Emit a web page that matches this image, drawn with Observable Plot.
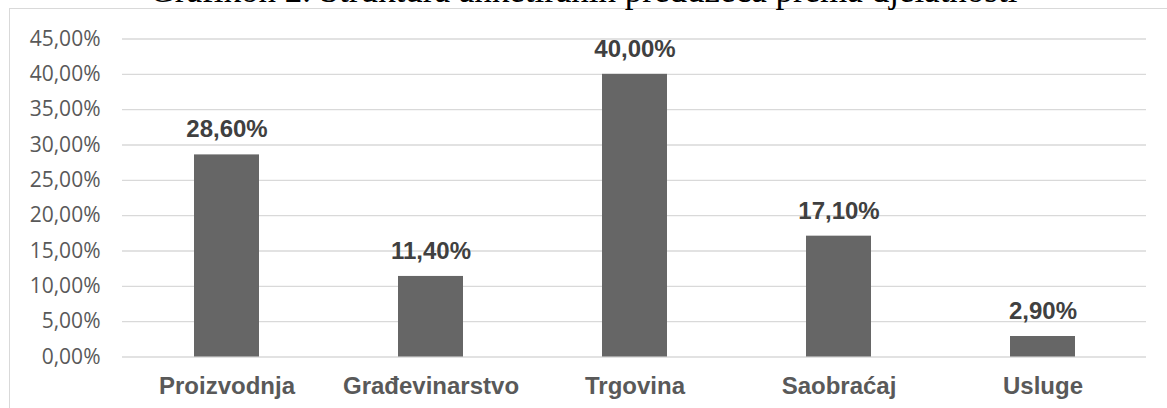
<!DOCTYPE html>
<html>
<head>
<meta charset="utf-8">
<script src="https://cdn.jsdelivr.net/npm/d3@7"></script>
<script src="https://cdn.jsdelivr.net/npm/@observablehq/plot@0.6"></script>
<style>
  html, body { margin: 0; padding: 0; background: #ffffff; overflow: hidden; }
  body { width: 1167px; height: 408px; position: relative; }
  #frame {
    position: absolute; left: 9px; top: 8px; width: 1400px; height: 600px;
    border: 1.5px solid #d9d9d9; box-sizing: border-box;
  }
  #title {
    position: absolute; left: 0; width: 1167px; top: -27px; text-align: center;
    font-family: "Liberation Serif", "Times New Roman", serif; font-size: 35px;
    line-height: 35px; color: #000000; white-space: nowrap;
  }
  #chart { position: absolute; left: 0; top: 0; }
</style>
</head>
<body>
<div id="frame"></div>
<div id="title">Grafikon 2. Struktura anketiranih preduzeća prema djelatnosti</div>
<div id="chart"></div>
<script>
// Share of surveyed companies by activity (percent)
const categories = ["Proizvodnja", "Građevinarstvo", "Trgovina", "Saobraćaj", "Usluge"];
const shares = [28.6, 11.4, 40.0, 17.1, 2.9];
const yTicks = [0, 5, 10, 15, 20, 25, 30, 35, 40, 45];

const rows = categories.map((c, i) => ({category: c, share: shares[i]}));
const pct = d => d.toFixed(2).replace(".", ",") + "%";

const chart = Plot.plot({
  width: 1167,
  height: 408,
  marginLeft: 122,
  marginRight: 21,
  marginTop: 38.5,
  marginBottom: 51.5,
  style: {background: "transparent", color: "#595959", overflow: "visible"},
  x: {domain: categories, paddingInner: 0.683, paddingOuter: 0.3415, label: null},
  y: {domain: [0, 45], label: null},
  marks: [
    Plot.gridY(yTicks, {stroke: "#d9d9d9", strokeOpacity: 1, strokeWidth: 1.3}),
    Plot.barY(rows, {x: "category", y: "share", fill: "#666666"}),
    Plot.text(rows, {
      x: "category", y: "share", text: d => pct(d.share),
      lineAnchor: "bottom", dy: -17.5,
      fontFamily: "Liberation Sans, Arial, sans-serif", fontSize: 24, fontWeight: "bold",
      fill: "#404040"
    }),
    Plot.axisY(yTicks, {
      tickSize: 0, tickPadding: 22, tickFormat: pct, label: null,
      fontFamily: "Open Sans, sans-serif", fontSize: 21
    }),
    Plot.axisX({
      tickSize: 0, tickPadding: 20, label: null,
      fontFamily: "Liberation Sans, Arial, sans-serif", fontSize: 24, fontWeight: "bold"
    })
  ]
});
document.getElementById("chart").appendChild(chart);
</script>
</body>
</html>
